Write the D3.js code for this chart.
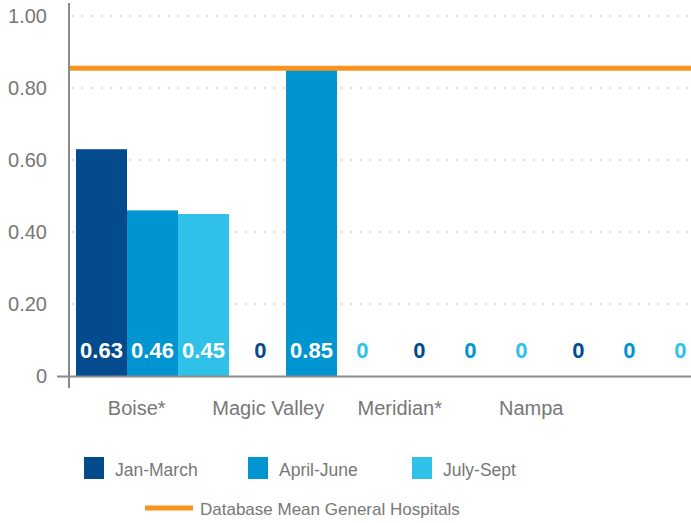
<!DOCTYPE html>
<html><head><meta charset="utf-8">
<script src="https://cdn.jsdelivr.net/npm/d3@7"></script>
<style>
html,body{margin:0;padding:0;background:#fff;}
text{font-family:"Liberation Sans",Arial,Helvetica,sans-serif;}
</style></head>
<body><svg id="chart" width="691" height="523"></svg>
<script>
const categories = ["Boise*", "Magic Valley", "Meridian*", "Nampa"];
const seriesNames = ["Jan-March", "April-June", "July-Sept"];
const janMarch  = [0.63, 0, 0, 0];
const aprilJune = [0.46, 0.85, 0, 0];
const julySept  = [0.45, 0, 0, 0];
const databaseMean = 0.855;
const meanLabel = "Database Mean General Hospitals";
const yTicks = [0, 0.2, 0.4, 0.6, 0.8, 1.0];
const yTickLabels = ["0", "0.20", "0.40", "0.60", "0.80", "1.00"];
const colors = ["#034b8c", "#0094d1", "#30c1e8"];
const meanColor = "#f7941d";

const seriesValues = [janMarch, aprilJune, julySept];
const svg = d3.select("#chart");
const W = 691;

const y = d3.scaleLinear().domain([0, 1]).range([376, 16]);
const x0 = d3.scaleBand().domain(categories).range([69, 713]).paddingInner(0.0377).paddingOuter(0.044);
const x1 = d3.scaleBand().domain(seriesNames).range([0, x0.bandwidth()]);
const xLab = d3.scaleBand().domain(categories).range([71, 597]);

// gridlines
svg.append("g").selectAll("line").data(yTicks.filter(d => d > 0)).join("line")
  .attr("x1", 72).attr("x2", 690).attr("y1", d => y(d)).attr("y2", d => y(d))
  .attr("stroke", "#c8c8c8").attr("stroke-width", 1.6).attr("stroke-dasharray", "1.6 8");

// bars
const rows = categories.map((c, i) => seriesNames.map((s, j) => ({cat: c, s, j, v: seriesValues[j][i]})));
const g = svg.append("g").selectAll("g").data(rows).join("g")
  .attr("transform", d => `translate(${x0(d[0].cat)},0)`);
g.selectAll("rect").data(d => d.filter(e => e.v > 0)).join("rect")
  .attr("x", d => x1(d.s)).attr("width", x1.bandwidth())
  .attr("y", d => y(d.v)).attr("height", d => y(0) - y(d.v))
  .attr("fill", d => colors[d.j]);
g.selectAll("text").data(d => d).join("text")
  .attr("x", d => x1(d.s) + x1.bandwidth() / 2).attr("y", 358)
  .attr("text-anchor", "middle").attr("font-size", 22).attr("font-weight", "bold")
  .attr("fill", d => d.v > 0 ? "#fff" : colors[d.j])
  .text(d => d.v === 0 ? "0" : d3.format(".2f")(d.v));

// mean line
svg.append("line").attr("x1", 69).attr("x2", W).attr("y1", y(databaseMean)).attr("y2", y(databaseMean))
  .attr("stroke", meanColor).attr("stroke-width", 5);

// y axis
const yAxis = d3.axisLeft(y).tickValues(yTicks).tickSize(0).tickPadding(22)
  .tickFormat((d, i) => yTickLabels[i]);
const ya = svg.append("g").attr("transform", "translate(69,0)").call(yAxis);
ya.select(".domain").remove();
ya.selectAll("text").attr("font-size", 20).attr("fill", "#777").attr("font-family", "Liberation Sans, Arial, sans-serif");
svg.append("line").attr("x1", 69).attr("x2", 69).attr("y1", 3).attr("y2", 388).attr("stroke", "#8a8a8a").attr("stroke-width", 2);
svg.append("line").attr("x1", 57).attr("x2", W).attr("y1", y(0) + 0.5).attr("y2", y(0) + 0.5).attr("stroke", "#8a8a8a").attr("stroke-width", 2);

// x labels
const xAxis = d3.axisBottom(xLab).tickSize(0).tickPadding(0);
const xa = svg.append("g").attr("transform", "translate(0,400)").call(xAxis);
xa.select(".domain").remove();
xa.selectAll("text").attr("font-size", 20).attr("fill", "#777").attr("dy", "0").attr("y", 15)
  .attr("font-family", "Liberation Sans, Arial, sans-serif");

// legend
const legX = d3.scalePoint().domain(seriesNames).range([84, 412]);
const leg = svg.append("g").selectAll("g").data(seriesNames).join("g")
  .attr("transform", d => `translate(${legX(d)},457)`);
leg.append("rect").attr("width", 20).attr("height", 22).attr("fill", (d, i) => colors[i]);
leg.append("text").attr("x", 31).attr("y", 19).attr("font-size", 17.5).attr("fill", "#777").text(d => d);

svg.append("line").attr("x1", 145).attr("x2", 193).attr("y1", 508).attr("y2", 508)
  .attr("stroke", meanColor).attr("stroke-width", 5);
svg.append("text").attr("x", 200).attr("y", 515).attr("font-size", 17).attr("fill", "#777").text(meanLabel);
</script></body></html>
